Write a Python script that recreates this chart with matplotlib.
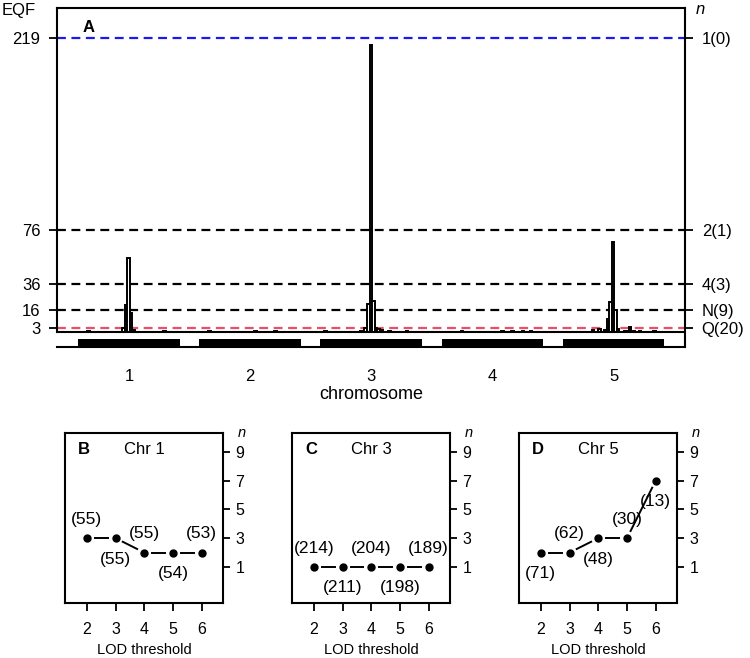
import numpy as np
import matplotlib
matplotlib.use("Agg")
import matplotlib.pyplot as plt
from matplotlib.patches import Rectangle

plt.rcParams['font.family'] = ['Liberation Sans', 'DejaVu Sans']

# ---------------- data ----------------
chromosomes = ['1', '2', '3', '4', '5']
# EQF profile: chromosome index, position (cM 0-100 scaled), EQF value
eqf_chr = [1, 1, 1, 1, 1, 1, 1,
           2, 2, 2,
           3, 3, 3, 3, 3, 3, 3, 3, 3, 3, 3,
           4, 4, 4, 4, 4,
           5, 5, 5, 5, 5, 5, 5, 5, 5, 5, 5, 5, 5]
eqf_pos = [10, 44.5, 47, 49.5, 52, 54.5, 85,
           10, 55, 75,
           5, 40, 44.5, 47, 49.5, 52, 54.5, 57, 60, 68, 85,
           20, 60, 70, 80, 88,
           30, 36, 42, 44.5, 47, 49.5, 52, 54.5, 62, 66, 70, 76, 90]
eqf_val = [1, 3, 20, 55, 14, 1.5, 1,
           0.5, 0.6, 0.5,
           0.8, 1, 3, 21, 214, 23, 3, 2, 1.5, 1, 0.8,
           0.5, 0.7, 0.8, 0.6, 0.5,
           1.5, 2, 1.5, 10, 22, 67, 16, 2, 1, 4, 1, 1, 0.5]

thr_values = [219, 76, 36, 16, 3]
thr_left_labels = ['219', '76', '36', '16', '3']
thr_right_labels = ['1(0)', '2(1)', '4(3)', 'N(9)', 'Q(20)']
thr_colors = ['#1a1aee', 'black', 'black', 'black', '#e8506a']

lod = [2, 3, 4, 5, 6]
panels = [
    dict(letter='B', title='Chr 1', n=[3, 3, 2, 2, 2],
         labels=['(55)', '(55)', '(55)', '(54)', '(53)'],
         above=[True, False, True, False, True]),
    dict(letter='C', title='Chr 3', n=[1, 1, 1, 1, 1],
         labels=['(214)', '(211)', '(204)', '(198)', '(189)'],
         above=[True, False, True, False, True]),
    dict(letter='D', title='Chr 5', n=[2, 2, 3, 3, 7],
         labels=['(71)', '(62)', '(48)', '(30)', '(13)'],
         above=[False, True, False, True, False]),
]
n_ticks = [1, 3, 5, 7, 9]

# ---------------- figure ----------------
W, H = 750, 658
fig = plt.figure(figsize=(W / 100, H / 100), dpi=100)

def fbox(l, t, r, b):
    return [l / W, 1 - b / H, (r - l) / W, (b - t) / H]

ax = fig.add_axes(fbox(57, 8, 685, 347))
half = 0.42
ax.set_xlim(0.405, 5.59)
ax.set_ylim(-11.2, 241.3)

# EQF bars
bw = 2.5
for c, p, v in zip(eqf_chr, eqf_pos, eqf_val):
    x0 = c + (p / 100 - 0.5) * 2 * half
    w = bw / 100 * 2 * half
    ax.bar(x0, v, width=w, bottom=0, facecolor='white', edgecolor='black',
           linewidth=1.4, zorder=3)

# threshold lines
for v, col in zip(thr_values, thr_colors):
    ax.axhline(v, color=col, linestyle=(0, (4, 2.5)), linewidth=1.6, zorder=2)

ax.axhline(0, color='black', linewidth=1.5, zorder=4)

# chromosome bars
for i, name in enumerate(chromosomes):
    c = i + 1
    ax.add_patch(Rectangle((c - half, -11.2), 2 * half, 6.0,
                           facecolor='black', edgecolor='none', zorder=4))

ax.set_xticks(range(1, 6))
ax.set_xticklabels(chromosomes, fontsize=12)
ax.tick_params(axis='x', length=0, pad=16)
ax.set_xlabel('chromosome', fontsize=13, labelpad=1)

ax.set_yticks(thr_values)
ax.set_yticklabels(thr_left_labels, fontsize=12)
ax.tick_params(axis='y', direction='out', length=6, width=1.3, pad=6)
ax.spines['left'].set_bounds(0, 241.3)
for s in ax.spines.values():
    s.set_linewidth(1.5)

axr = ax.twinx()
axr.set_ylim(ax.get_ylim())
axr.set_yticks(thr_values)
axr.set_yticklabels(thr_right_labels, fontsize=12)
axr.tick_params(axis='y', direction='out', length=6, width=1.3, pad=6)
for s in axr.spines.values():
    s.set_visible(False)

fig.text(19 / W, 1 - 10 / H, 'EQF', fontsize=12, ha='center', va='center')
fig.text(700 / W, 1 - 10 / H, 'n', fontsize=12, ha='center', va='center',
         style='italic')
fig.text(89 / W, 1 - 27 / H, 'A', fontsize=12, fontweight='bold',
         ha='center', va='center')

# ---------------- lower panels ----------------
lefts = [65, 292, 519]
for pl, L in zip(panels, lefts):
    a = fig.add_axes(fbox(L, 433, L + 158, 603))
    a.set_xlim(1.24, 6.74)
    a.set_ylim(-1.5, 10.3)
    for s in a.spines.values():
        s.set_linewidth(1.5)
    a.set_xticks(lod)
    a.set_xticklabels([str(v) for v in lod], fontsize=11.5)
    a.tick_params(axis='x', direction='out', length=6, width=1.3, pad=8)
    a.yaxis.tick_right()
    a.set_yticks(n_ticks)
    a.set_yticklabels([str(v) for v in n_ticks], fontsize=11.5)
    a.tick_params(axis='y', direction='out', length=5, width=1.3, pad=4)
    a.set_xlabel('LOD threshold', fontsize=10.5, labelpad=4)

    a.plot(lod, pl['n'], 'o', color='black', markersize=5, zorder=3)
    # type "b" lines with gaps around points
    fig.canvas.draw()
    pts = a.transData.transform(np.column_stack([lod, pl['n']]))
    gap = 8.0
    for j in range(len(lod) - 1):
        p0, p1 = pts[j], pts[j + 1]
        d = p1 - p0
        dist = np.hypot(*d)
        if dist <= 2 * gap:
            continue
        u = d / dist
        q0 = a.transData.inverted().transform(p0 + u * gap)
        q1 = a.transData.inverted().transform(p1 - u * gap)
        a.plot([q0[0], q1[0]], [q0[1], q1[1]], color='black', linewidth=1.4)

    for x, y, lab, up in zip(lod, pl['n'], pl['labels'], pl['above']):
        dy = 1.3 if up else -1.45
        a.text(x, y + dy, lab, fontsize=12.5, ha='center', va='center')

    a.text(0.12, 0.9, pl['letter'], fontsize=12, fontweight='bold',
           ha='center', va='center', transform=a.transAxes)
    a.text(0.5, 0.9, pl['title'], fontsize=12, ha='center', va='center',
           transform=a.transAxes)
    a.text(1.12, 1.0, 'n', fontsize=10.5, style='italic', ha='center',
           va='center', transform=a.transAxes)

fig.savefig('out.png', dpi=100)
